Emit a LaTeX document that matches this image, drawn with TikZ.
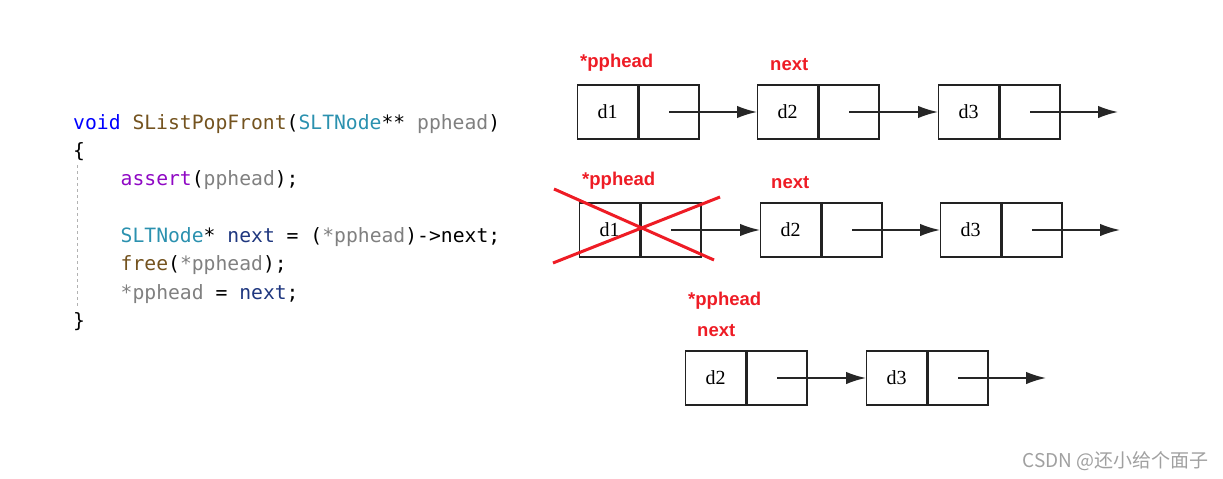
\documentclass[tikz,border=0pt]{standalone}
\usepackage{fontspec}
\usetikzlibrary{arrows.meta}
\setmainfont{Liberation Serif}
\newfontfamily\codefont{DejaVu Sans Mono}
\newfontfamily\labfont{Liberation Sans}
\newfontfamily\cjkfont{Noto Sans CJK SC}
\definecolor{kw}{HTML}{0000FF}
\definecolor{fn}{HTML}{74531F}
\definecolor{ty}{HTML}{2B91AF}
\definecolor{par}{HTML}{808080}
\definecolor{asrt}{HTML}{8F08C4}
\definecolor{loc}{HTML}{1F377F}
\definecolor{lab}{HTML}{EE1C25}
\definecolor{cellline}{HTML}{222222}
\definecolor{wm}{HTML}{A0A0A0}
\tikzset{
  codeline/.style={anchor=base west, inner sep=0pt, font=\codefont\fontsize{19.7}{22}\selectfont},
  cell/.style={draw=cellline, line width=1.4pt, minimum width=60pt, minimum height=54pt, inner sep=0pt, anchor=west, font=\fontsize{20}{22}\selectfont},
  arr/.style={draw=black!85, line width=1.8pt, -{Latex[length=20pt,width=12.5pt]}},
  redlab/.style={anchor=west, inner sep=0pt, text=lab, font=\labfont\bfseries\fontsize{18.5}{20}\selectfont},
  cross/.style={draw=lab, line width=3pt},
  guide/.style={draw=black!30, line width=1pt, dashed}
}
\begin{document}
\begin{tikzpicture}[x=1pt,y=-1pt]
\useasboundingbox (0,0) rectangle (1223,479);
% code
\node[codeline] (c1) at (73,129) {\textcolor{kw}{void} \textcolor{fn}{SListPopFront}(\textcolor{ty}{SLTNode}** \textcolor{par}{pphead})};
\node[codeline] (c2) at (73,157) {\{};
\node[codeline] (c3) at (120.5,185) {\textcolor{asrt}{assert}(\textcolor{par}{pphead});};
\node[codeline] (c5) at (120.5,242) {\textcolor{ty}{SLTNode}* \textcolor{loc}{next} = (\textcolor{par}{*pphead})->next;};
\node[codeline] (c6) at (120.5,270) {\textcolor{fn}{free}(\textcolor{par}{*pphead});};
\node[codeline] (c7) at (120.5,299) {\textcolor{par}{*pphead} = \textcolor{loc}{next};};
\node[codeline] (c8) at (73,327) {\}};
\coordinate (g1) at (77,165);
\coordinate (g2) at (77,308);
\draw[guide] (g1) -- (g2);

% row 1
\node[cell] (a1) at (577,112) {d1};
\node[cell] (a1p) at (a1.east) {};
\node[cell] (a2) at (757,112) {d2};
\node[cell] (a2p) at (a2.east) {};
\node[cell] (a3) at (938,112) {d3};
\node[cell] (a3p) at (a3.east) {};
\coordinate (a4) at (1118,112);
\draw[arr] (a1p.center) -- (a2.west);
\draw[arr] (a2p.center) -- (a3.west);
\draw[arr] (a3p.center) -- (a4);
\node[redlab] (l1) at (580,63) {*pphead};
\node[redlab] (l2) at (770,65) {next};

% row 2
\node[cell] (b1) at (579,230) {d1};
\node[cell] (b1p) at (b1.east) {};
\node[cell] (b2) at (760,230) {d2};
\node[cell] (b2p) at (b2.east) {};
\node[cell] (b3) at (940,230) {d3};
\node[cell] (b3p) at (b3.east) {};
\coordinate (b4) at (1120,230);
\draw[arr] (b1p.center) -- (b2.west);
\draw[arr] (b2p.center) -- (b3.west);
\draw[arr] (b3p.center) -- (b4);
\node[redlab] (l3) at (582,181) {*pphead};
\node[redlab] (l4) at (771,183) {next};
\coordinate (x1) at (554,189);
\coordinate (x2) at (714,260);
\coordinate (x3) at (553,263);
\coordinate (x4) at (720,197);
\draw[cross] (x1) -- (x2);
\draw[cross] (x3) -- (x4);

% row 3
\node[cell] (e2) at (685,378) {d2};
\node[cell] (e2p) at (e2.east) {};
\node[cell] (e3) at (866,378) {d3};
\node[cell] (e3p) at (e3.east) {};
\coordinate (e4) at (1046,378);
\draw[arr] (e2p.center) -- (e3.west);
\draw[arr] (e3p.center) -- (e4);
\node[redlab] (l5) at (688,301) {*pphead};
\node[redlab] (l6) at (697,331) {next};

% watermark
\node[anchor=east, inner sep=0pt, text=wm, font=\cjkfont\fontsize{19}{22}\selectfont] (wmk) at (1209,461) {CSDN @还小给个面子};
\end{tikzpicture}
\end{document}
